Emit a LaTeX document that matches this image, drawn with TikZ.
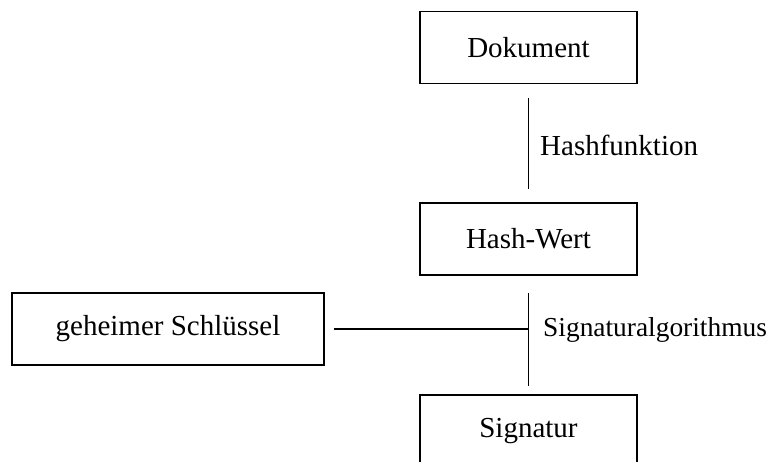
\documentclass[tikz,border=0pt]{standalone}
\usepackage{fontspec}
\setmainfont{Liberation Serif}
\begin{document}
\begin{tikzpicture}[x=1pt,y=-1pt,
  box/.style={draw, line width=1.3pt, minimum width=217pt, minimum height=72pt, inner sep=0pt, font=\fontsize{29}{34}\selectfont},
  lbl/.style={anchor=west, inner sep=0pt, font=\fontsize{29}{34}\selectfont},
  conn/.style={line width=1.3pt}]
\useasboundingbox (0,0) rectangle (777,461);
\node[box] (dok) at (528.5,47.5) {Dokument};
\node[box] (hash) at (528.5,239) {Hash-Wert};
\node[box, minimum width=312pt] (key) at (168,329) {geheimer Schl\"ussel};
\node[box] (sig) at (528.5,431) {Signatur};
\draw[conn, shorten <=14pt, shorten >=13pt] (dok.south) -- (hash.north);
\draw[conn, shorten <=17pt, shorten >=8pt] (hash.south) -- (sig.north);
\coordinate (j) at (hash.south |- key.east);
\draw[conn, shorten <=9pt] (key.east) -- (j);
\node[lbl] (hf) at (540,145) {Hashfunktion};
\node[lbl, font=\fontsize{27.4}{32}\selectfont] (sa) at (543,330) {Signaturalgorithmus};
\end{tikzpicture}
\end{document}
